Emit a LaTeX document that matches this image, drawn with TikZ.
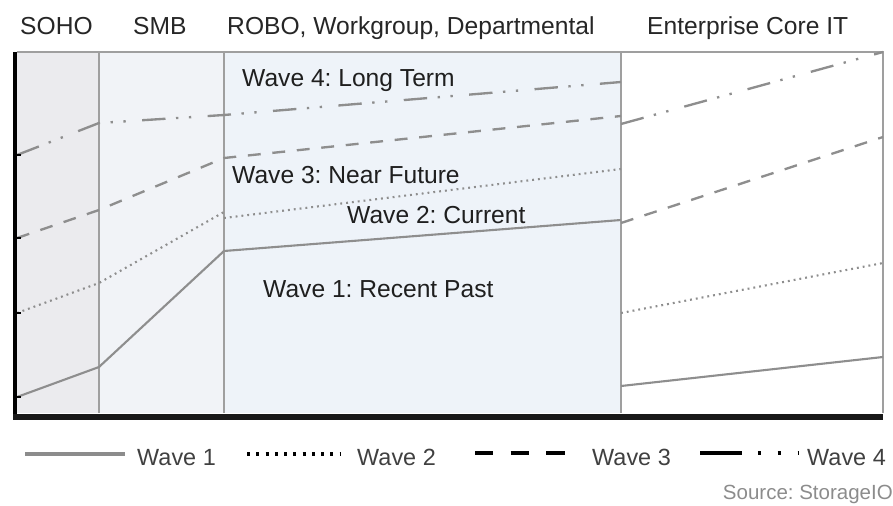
\documentclass[tikz,border=0pt]{standalone}
\usepackage{fontspec}
\setmainfont{Liberation Sans}
\usetikzlibrary{positioning}
\frenchspacing

\definecolor{sohofill}{HTML}{EBEBEE}
\definecolor{smbfill}{HTML}{F1F3F7}
\definecolor{robofill}{HTML}{EEF3F9}
\definecolor{waveline}{HTML}{8E8E8E}

\begin{document}
\begin{tikzpicture}[
  x=0.03cm, y=-0.03cm,
  collbl/.style={font=\fontsize{21}{24}\selectfont, text=black!85,
    anchor=base west, inner sep=0pt},
  wavelbl/.style={font=\fontsize{21}{24}\selectfont, text=black!88,
    anchor=base west, inner sep=0pt},
  leglbl/.style={font=\fontsize{20}{24}\selectfont, text=black!75,
    anchor=base west, inner sep=0pt},
  srclbl/.style={font=\fontsize{17.5}{20}\selectfont, text=black!45,
    anchor=base east, inner sep=0pt},
  divline/.style={draw=gray!75, line width=1.6pt},
  waveone/.style={draw=waveline, line width=1.8pt, line join=round},
  wavetwo/.style={draw=waveline, line width=1.8pt,
    dash pattern=on 1.6pt off 3.4pt},
  wavethree/.style={draw=waveline, line width=2pt,
    dash pattern=on 11pt off 10pt},
  wavefour/.style={draw=waveline, line width=2pt,
    dash pattern=on 20pt off 9pt on 2pt off 9pt on 2pt off 14pt},
]

% Column x-positions
\def\cL{17}
\def\cA{99}
\def\cB{224}
\def\cC{621}
\def\cR{883}

% Row y-positions
\def\rT{52}
\def\rB{413}

\useasboundingbox (0,0) rectangle (893,506);

% ---- Column backgrounds ----
\fill[sohofill] (\cL,\rT) rectangle (\cA,\rB);
\fill[smbfill] (\cA,\rT) rectangle (\cB,\rB);
\fill[robofill] (\cB,\rT) rectangle (\cC,\rB);

% ---- Frame and dividers ----
\draw[divline] (\cL,\rT) -- (\cR,\rT) -- (\cR,\rB);
\draw[divline] (\cA,\rT) -- (\cA,\rB);
\draw[divline] (\cB,\rT) -- (\cB,\rB);
\draw[divline] (\cC,\rT) -- (\cC,\rB);

% ---- Column Headers ----
\node[collbl] (hSoho) at (20,35) {SOHO};
\node[collbl] (hSmb) at (133,35) {SMB};
\node[collbl] (hRobo) at (227,35) {ROBO, Workgroup, Departmental};
\node[collbl] (hEnt) at (647,35) {Enterprise Core IT};

% ======== Wave curves ========
\draw[waveone] (\cL,397) -- (\cA,367) -- (\cB,251) -- (\cC,220);
\draw[waveone] (\cC,386) -- (\cR,357);

\draw[wavetwo] (\cL,313) -- (\cA,283) -- (\cB,212);
\draw[wavetwo] (\cB,218) -- (\cC,169);
\draw[wavetwo] (\cC,313) -- (\cR,263);

\draw[wavethree] (\cL,238) -- (\cA,210) -- (\cB,158) -- (\cC,116);
\draw[wavethree] (\cC,223) -- (\cR,137);

\draw[wavefour] (\cL,155) -- (\cA,123) -- (\cB,115) -- (\cC,82);
\draw[wavefour] (\cC,124) -- (\cR,52);

% ---- Axis (left and bottom) ----
\draw[black, line width=4.2pt] (15,\rT) -- (15,420);
\draw[black!90, line width=5pt] (13,417) -- (\cR,417);
\foreach \yy in {155,238,313,397}
  \draw[black, line width=1.5pt] (15,\yy) -- (21,\yy);

% ---- Wave labels ----
\node[wavelbl] (lblFour) at (242,87) {Wave 4: Long Term};
\node[wavelbl] (lblThree) at (232,183) {Wave 3: Near Future};
\node[wavelbl] (lblTwo) at (347,223) {Wave 2: Current};
\node[wavelbl] (lblOne) at (263,297) {Wave 1: Recent Past};

% ======== Legend ========
\draw[gray!90, line width=3pt] (25,454) -- (125,454);
\node[leglbl] (legOne) at (137,465) {Wave 1};

\draw[black, line width=2.6pt, dash pattern=on 2.6pt off 5.3pt]
  (247,454) -- (340,454);
\node[leglbl] (legTwo) at (357,465) {Wave 2};

\draw[black, line width=3.4pt, dash pattern=on 15.5pt off 15pt]
  (475,453) -- (568,453);
\node[leglbl] (legThree) at (592,465) {Wave 3};

\draw[black, line width=3.4pt,
  dash pattern=on 35.7pt off 13.6pt on 2.5pt off 14.5pt on 2.5pt off 14.5pt on 1.5pt]
  (700,453) -- (803,453);
\node[leglbl] (legFour) at (807,465) {Wave 4};

\node[srclbl] (src) at (893,499) {Source: StorageIO};

\end{tikzpicture}
\end{document}
